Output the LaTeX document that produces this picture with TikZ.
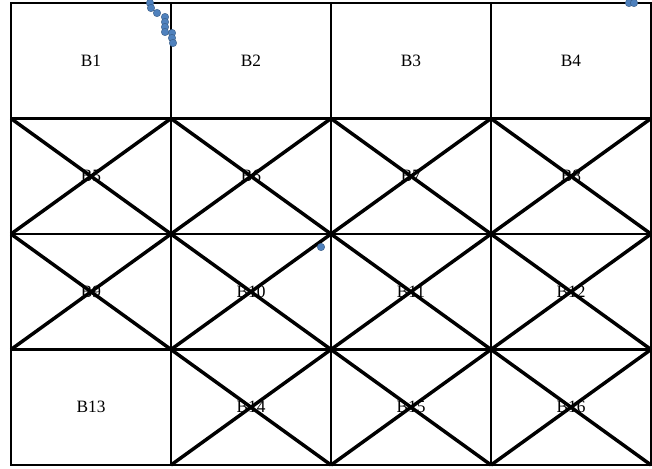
\documentclass[tikz,border=0pt]{standalone}
\usepackage{fontspec}
\setmainfont{Liberation Serif}
\usepackage{tikz}
\usetikzlibrary{positioning}
\definecolor{dotblue}{RGB}{79,129,189}
\tikzset{
  cellbox/.style={
    rectangle,
    draw=black,
    line width=1.6pt,
    minimum width=120pt,
    minimum height=86.625pt,
    inner sep=0pt,
    outer sep=0pt,
    font=\fontsize{13}{15}\selectfont
  },
  crossline/.style={line width=2.6pt,black},
  marker/.style={fill=dotblue,draw=dotblue!70!black,line width=0.3pt}
}
\begin{document}
\begin{tikzpicture}[x=0.75pt,y=-0.75pt]
  \useasboundingbox (0,0) rectangle (652,468);
  % first row
  \node[cellbox] (b1) at (91,60.75) {B1};
  \node[cellbox, right=0pt of b1] (b2) {B2};
  \node[cellbox, right=0pt of b2] (b3) {B3};
  \node[cellbox, right=0pt of b3] (b4) {B4};
  % second row
  \node[cellbox, below=0pt of b1] (b5) {B5};
  \node[cellbox, right=0pt of b5] (b6) {B6};
  \node[cellbox, right=0pt of b6] (b7) {B7};
  \node[cellbox, right=0pt of b7] (b8) {B8};
  % third row
  \node[cellbox, below=0pt of b5] (b9) {B9};
  \node[cellbox, right=0pt of b9] (b10) {B10};
  \node[cellbox, right=0pt of b10] (b11) {B11};
  \node[cellbox, right=0pt of b11] (b12) {B12};
  % fourth row
  \node[cellbox, below=0pt of b9] (b13) {B13};
  \node[cellbox, right=0pt of b13] (b14) {B14};
  \node[cellbox, right=0pt of b14] (b15) {B15};
  \node[cellbox, right=0pt of b15] (b16) {B16};
  % crossed cells
  \foreach \c in {5,6,7,8,9,10,11,12,14,15,16}
    \draw[crossline] (b\c.north west) -- (b\c.south east)
                     (b\c.south west) -- (b\c.north east);
  % blue markers
  \foreach \px/\py in {150/3,151/8,157/13,165/17,165/22,165/27,165/32,172/33,172/38,173/43,629/3,634/3,321/247}
    \filldraw[marker] (\px,\py) circle (2.8pt);
\end{tikzpicture}
\end{document}
